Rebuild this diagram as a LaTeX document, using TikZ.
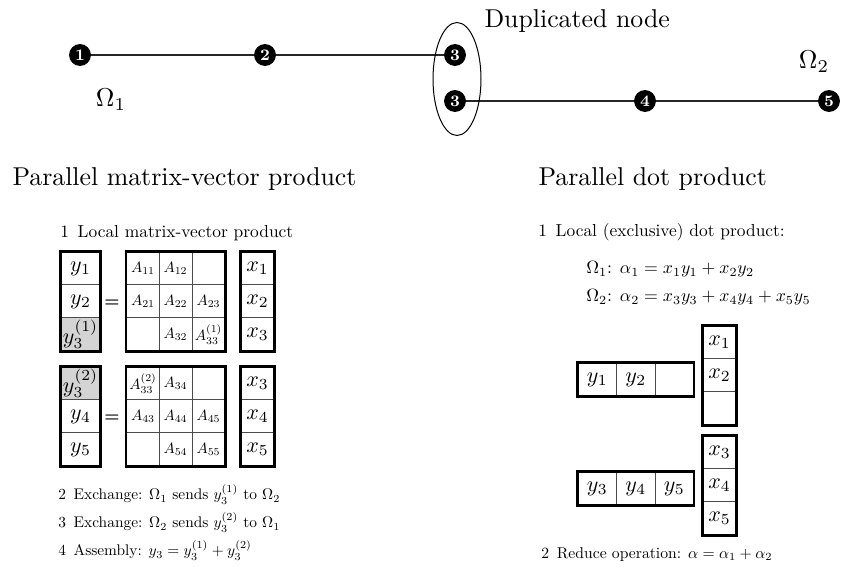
\RequirePackage{fix-cm}
\documentclass[tikz,border=0pt]{standalone}
\usepackage{amsmath}
\usepackage{graphicx}
\usetikzlibrary{shapes.geometric}
\newcommand{\Aent}[1]{\scalebox{0.75}{\fontsize{10}{12}\selectfont$#1$}}
\begin{document}
\begin{tikzpicture}[x=0.5pt,y=-0.5pt,
  gnode/.style={circle,fill=black,draw=black,minimum size=10.5pt,inner sep=0pt,text=white,font=\fontsize{8}{9}\selectfont\bfseries},
  gedge/.style={line width=1.3pt,draw=black!85},
  cell/.style={draw=black!70,line width=0.5pt,minimum width=16.5pt,minimum height=16.5pt,inner sep=0pt,font=\fontsize{11}{13}\selectfont},
  vcell/.style={cell,minimum width=19.5pt},
  acell/.style={cell},
  hcell/.style={cell,minimum width=19.25pt},
  frame/.style={line width=1.4pt},
  shade/.style={fill=black!17},
  big/.style={font=\fontsize{10}{12}\selectfont,inner sep=0pt,scale=1.29,transform shape},
  title/.style={big,anchor=base west},
  txt/.style={anchor=base west,font=\fontsize{10}{12}\selectfont,inner sep=0pt,scale=0.87,transform shape},
  stxt/.style={txt,scale=0.885},
  eq/.style={font=\fontsize{8}{9}\selectfont\boldmath,inner sep=0pt}
]
\useasboundingbox (0,0) rectangle (848,567);

% ---------- top graph ----------
\node[gnode] (n1) at (80,55) {1};
\node[gnode] (n2) at (265,55) {2};
\node[gnode] (n3a) at (455,55) {3};
\node[gnode] (n3b) at (455,101) {3};
\node[gnode] (n4) at (645,101) {4};
\node[gnode] (n5) at (829,101) {5};
\draw[gedge] (n1) -- (n2);
\draw[gedge] (n2) -- (n3a);
\draw[gedge] (n3b) -- (n4);
\draw[gedge] (n4) -- (n5);
\node[draw,ellipse,line width=0.5pt,minimum width=24pt,minimum height=56.5pt,inner sep=0pt] (dup) at (457,79) {};
\node[title] (duptxt) at (484,28) {Duplicated node};
\node[big] (om1) at (111,100) {$\Omega_1$};
\node[big] (om2) at (814,62) {$\Omega_2$};

% ---------- titles ----------
\node[title] (t1) at (12,186) {Parallel matrix-vector product};
\node[title] (t2) at (538,186) {Parallel dot product};

% ---------- left: matrix-vector ----------
\node[txt] (s1) at (60,238) {1\enspace Local matrix-vector product};

% block 1
\node[vcell] (ya1) at (80.5,268.5) {$y_1$};
\node[vcell] (ya2) at (80.5,301.5) {$y_2$};
\node[vcell,shade] (ya3) at (80.5,334.5) {$y_3^{(1)}$};
\draw[frame] (ya1.north west) rectangle (ya3.south east);
\node[eq] (eqa) at (112,303) {$=$};
\node[acell] (a11) at (143,268.5) {\Aent{A_{11}}};
\node[acell] (a12) at (175.5,268.5) {\Aent{A_{12}}};
\node[acell] (a13) at (208.5,268.5) {};
\node[acell] (a21) at (143,301.5) {\Aent{A_{21}}};
\node[acell] (a22) at (175.5,301.5) {\Aent{A_{22}}};
\node[acell] (a23) at (208.5,301.5) {\Aent{A_{23}}};
\node[acell] (a31) at (143,334.5) {};
\node[acell] (a32) at (175.5,334.5) {\Aent{A_{32}}};
\node[acell] (a33) at (208.5,334.5) {\Aent{A_{33}^{(1)}}};
\draw[frame] (a11.north west) rectangle (a33.south east);
\node[cell] (xa1) at (257.5,268.5) {$x_1$};
\node[cell] (xa2) at (257.5,301.5) {$x_2$};
\node[cell] (xa3) at (257.5,334.5) {$x_3$};
\draw[frame] (xa1.north west) rectangle (xa3.south east);

% block 2
\node[vcell,shade] (yb1) at (80.5,383.5) {$y_3^{(2)}$};
\node[vcell] (yb2) at (80.5,416.5) {$y_4$};
\node[vcell] (yb3) at (80.5,449.5) {$y_5$};
\draw[frame] (yb1.north west) rectangle (yb3.south east);
\node[eq] (eqb) at (112,418) {$=$};
\node[acell] (b11) at (143,383.5) {\Aent{A_{33}^{(2)}}};
\node[acell] (b12) at (175.5,383.5) {\Aent{A_{34}}};
\node[acell] (b13) at (208.5,383.5) {};
\node[acell] (b21) at (143,416.5) {\Aent{A_{43}}};
\node[acell] (b22) at (175.5,416.5) {\Aent{A_{44}}};
\node[acell] (b23) at (208.5,416.5) {\Aent{A_{45}}};
\node[acell] (b31) at (143,449.5) {};
\node[acell] (b32) at (175.5,449.5) {\Aent{A_{54}}};
\node[acell] (b33) at (208.5,449.5) {\Aent{A_{55}}};
\draw[frame] (b11.north west) rectangle (b33.south east);
\node[cell] (xb1) at (257.5,383.5) {$x_3$};
\node[cell] (xb2) at (257.5,416.5) {$x_4$};
\node[cell] (xb3) at (257.5,449.5) {$x_5$};
\draw[frame] (xb1.north west) rectangle (xb3.south east);

\node[txt,scale=0.885] (s2) at (58,500) {2\enspace Exchange: $\Omega_1$ sends $y_3^{(1)}$ to $\Omega_2$};
\node[txt,scale=0.885] (s3) at (58,528) {3\enspace Exchange: $\Omega_2$ sends $y_3^{(2)}$ to $\Omega_1$};
\node[txt,scale=0.885] (s4) at (58,556) {4\enspace Assembly: $y_3 = y_3^{(1)} + y_3^{(2)}$};

% ---------- right: dot product ----------
\node[txt] (r1) at (538,237) {1\enspace Local (exclusive) dot product:};
\node[txt,scale=1.02] (r1a) at (586,274) {$\Omega_1$: $\alpha_1 = x_1y_1 + x_2y_2$};
\node[txt,scale=1.02] (r1b) at (586,302) {$\Omega_2$: $\alpha_2 = x_3y_3 + x_4y_4 + x_5y_5$};

\node[hcell] (hy1) at (597.25,379.5) {$y_1$};
\node[hcell] (hy2) at (635.75,379.5) {$y_2$};
\node[hcell] (hy3) at (674.25,379.5) {};
\draw[frame] (hy1.north west) rectangle (hy3.south east);
\node[cell] (vx1) at (719.5,342.5) {$x_1$};
\node[cell] (vx2) at (719.5,375.5) {$x_2$};
\node[cell] (vx3) at (719.5,408.5) {};
\draw[frame] (vx1.north west) rectangle (vx3.south east);

\node[hcell] (hy4) at (597.25,488.5) {$y_3$};
\node[hcell] (hy5) at (635.75,488.5) {$y_4$};
\node[hcell] (hy6) at (674.25,488.5) {$y_5$};
\draw[frame] (hy4.north west) rectangle (hy6.south east);
\node[cell] (vx4) at (719.5,452.5) {$x_3$};
\node[cell] (vx5) at (719.5,485.5) {$x_4$};
\node[cell] (vx6) at (719.5,518.5) {$x_5$};
\draw[frame] (vx4.north west) rectangle (vx6.south east);

\node[txt,scale=0.9] (r2) at (541,558) {2\enspace Reduce operation: $\alpha = \alpha_1 + \alpha_2$};
\end{tikzpicture}
\end{document}
